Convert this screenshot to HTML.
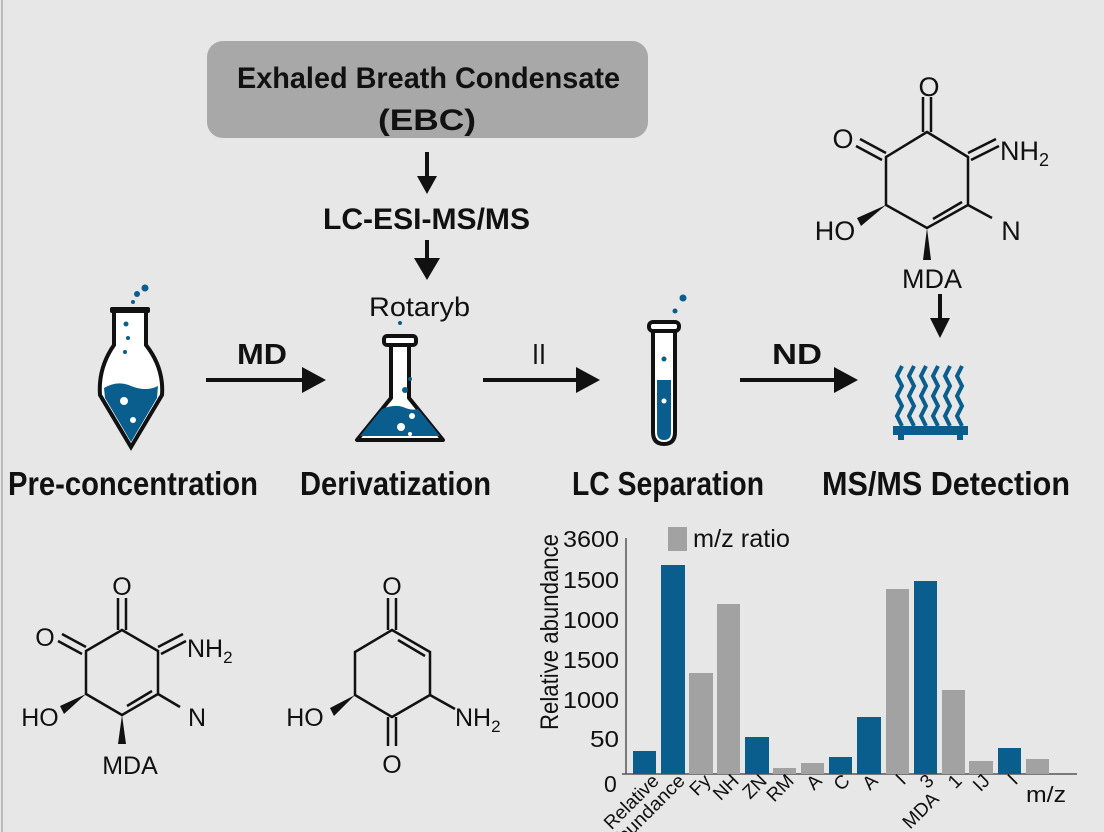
<!DOCTYPE html>
<html><head><meta charset="utf-8"><style>
html,body{margin:0;padding:0;background:#e7e7e7;}
svg{display:block}
.n{font-family:"Liberation Sans",sans-serif;font-weight:bold;fill:#111}
.r{font-family:"Liberation Sans",sans-serif;fill:#111}
.a{font-family:"Liberation Sans",sans-serif;fill:#111}
</style></head><body>
<svg width="1104" height="832" viewBox="0 0 1104 832" xmlns="http://www.w3.org/2000/svg">
<rect width="1104" height="832" fill="#e7e7e7"/>
<rect x="1" y="0" width="2" height="832" fill="#bbb"/>
<rect x="207" y="41" width="441" height="97" rx="16" fill="#a8a8a8"/>
<text class="n" x="237" y="88" font-size="30" textLength="383" lengthAdjust="spacingAndGlyphs">Exhaled Breath Condensate</text>
<text class="n" x="378" y="130" font-size="30" textLength="98" lengthAdjust="spacingAndGlyphs">(EBC)</text>
<line x1="427" y1="152" x2="427" y2="178" stroke="#111" stroke-width="4"/>
<polygon points="417,176 437,176 427,194" fill="#111"/>
<text class="n" x="323" y="229" font-size="30" textLength="207" lengthAdjust="spacingAndGlyphs">LC-ESI-MS/MS</text>
<line x1="427" y1="240" x2="427" y2="262" stroke="#111" stroke-width="4"/>
<polygon points="414,258 440,258 427,280" fill="#111"/>
<text class="r" x="369" y="316" font-size="27" textLength="101" lengthAdjust="spacingAndGlyphs">Rotaryb</text>
<path d="M116,310 L114,310 L114,345 Q98,368 100,395 L131,447 L162,395 Q164,368 146,345 L146,310 Z" stroke="#111" stroke-width="4" fill="#fff"/>
<path d="M104,388 Q118,380 131,386 Q146,392 158,386 L157,398 L131,442 L105,398 Z" fill="#0a5e8e"/>
<rect x="110" y="307" width="40" height="6" fill="#111" rx="2"/>
<circle cx="124" cy="401" r="4" fill="#fff"/><circle cx="133" cy="420" r="3" fill="#fff"/>
<circle cx="126" cy="324" r="2.5" fill="#0a5e8e"/><circle cx="128" cy="338" r="2" fill="#0a5e8e"/><circle cx="125" cy="352" r="2" fill="#0a5e8e"/>
<circle cx="137" cy="294" r="3" fill="#0a5e8e"/><circle cx="145" cy="288" r="3.5" fill="#0a5e8e"/><circle cx="133" cy="302" r="2" fill="#0a5e8e"/>
<path d="M391,345 L391,398 L357,440 L443,440 L409,398 L409,345 Z" fill="#fff" stroke="#111" stroke-width="4" stroke-linejoin="round"/>
<path d="M382,409 Q394,404 403,407 Q412,411 418,409 L440,436 L360,436 Z" fill="#0a5e8e"/>
<rect x="384" y="336" width="32" height="9" rx="3" fill="#fff" stroke="#111" stroke-width="4"/>
<circle cx="401" cy="427" r="4" fill="#fff"/><circle cx="412" cy="416" r="3" fill="#fff"/><circle cx="410" cy="434" r="2" fill="#fff"/>
<circle cx="405" cy="390" r="3" fill="#0a5e8e"/><circle cx="410" cy="379" r="2" fill="#0a5e8e"/><circle cx="400" cy="323" r="2" fill="#0a5e8e"/>
<path d="M653,330 L653,432 Q653,444 664,444 Q675,444 675,432 L675,330 Z" fill="#fff" stroke="#111" stroke-width="4"/>
<path d="M657,380 L671,380 L671,432 Q671,440 664,440 Q657,440 657,432 Z" fill="#0a5e8e"/>
<rect x="649" y="322" width="30" height="9" rx="4" fill="#fff" stroke="#111" stroke-width="4"/>
<circle cx="664" cy="359" r="2.5" fill="#0a5e8e"/><circle cx="664" cy="401" r="2.5" fill="#fff"/>
<circle cx="675" cy="311" r="2.5" fill="#0a5e8e"/><circle cx="683" cy="298" r="3.5" fill="#0a5e8e"/>
<g stroke="#0a5e8e" stroke-width="4" fill="none">
<path d="M902,366 l-5,10 l5,10 l-5,10 l5,10 l-5,10 l5,10"/>
<path d="M914,366 l-5,10 l5,10 l-5,10 l5,10 l-5,10 l5,10"/>
<path d="M926,366 l-5,10 l5,10 l-5,10 l5,10 l-5,10 l5,10"/>
<path d="M938,366 l-5,10 l5,10 l-5,10 l5,10 l-5,10 l5,10"/>
<path d="M950,366 l-5,10 l5,10 l-5,10 l5,10 l-5,10 l5,10"/>
<path d="M962,366 l-5,10 l5,10 l-5,10 l5,10 l-5,10 l5,10"/>
</g>
<rect x="893" y="426" width="75" height="9" fill="#0a5e8e"/>
<rect x="898" y="435" width="6" height="5" fill="#0a5e8e"/><rect x="957" y="435" width="6" height="5" fill="#0a5e8e"/>
<g stroke="#111" stroke-width="4"><line x1="206" y1="380" x2="306" y2="380"/><line x1="483" y1="380" x2="580" y2="380"/><line x1="740" y1="380" x2="838" y2="380"/></g>
<polygon points="302,367 326,380 302,393" fill="#111"/>
<polygon points="576,367 600,380 576,393" fill="#111"/>
<polygon points="834,367 858,380 834,393" fill="#111"/>
<text class="n" x="237" y="364" font-size="29" textLength="50" lengthAdjust="spacingAndGlyphs">MD</text>
<text class="r" x="532" y="364" font-size="29" textLength="14" lengthAdjust="spacingAndGlyphs">II</text>
<text class="n" x="772" y="364" font-size="29" textLength="50" lengthAdjust="spacingAndGlyphs">ND</text>
<text class="n" x="8" y="495" font-size="33" textLength="250" lengthAdjust="spacingAndGlyphs">Pre-concentration</text>
<text class="n" x="300" y="495" font-size="33" textLength="191" lengthAdjust="spacingAndGlyphs">Derivatization</text>
<text class="n" x="572" y="495" font-size="33" textLength="192" lengthAdjust="spacingAndGlyphs">LC Separation</text>
<text class="n" x="822" y="495" font-size="33" textLength="248" lengthAdjust="spacingAndGlyphs">MS/MS Detection</text>
<g stroke="#111" stroke-width="2.5" fill="none">
<path d="M927,132 L968,157 L968,205 L927,228 L886,205 L886,157 Z"/>
<line x1="923" y1="132" x2="923" y2="97"/><line x1="931" y1="132" x2="931" y2="97"/>
<line x1="886" y1="153" x2="860" y2="139"/><line x1="882" y1="160" x2="856" y2="146"/>
<line x1="968" y1="153" x2="996" y2="139"/><line x1="971" y1="160" x2="999" y2="146"/>
<line x1="933" y1="219" x2="962" y2="202"/>
<line x1="968" y1="205" x2="992" y2="218"/>
</g>
<polygon points="886,205 857,218 861,226" fill="#111"/>
<polygon points="927,228 923,260 931,260" fill="#111"/>
<text class="a" x="929" y="96" font-size="27" text-anchor="middle">O</text>
<text class="a" x="843" y="148" font-size="27" text-anchor="middle">O</text>
<text class="a" x="1000" y="160" font-size="27">NH<tspan font-size="18" dy="6">2</tspan></text>
<text class="a" x="1011" y="240" font-size="27" text-anchor="middle">N</text>
<text class="a" x="835" y="240" font-size="27" text-anchor="middle">HO</text>
<text class="a" x="932" y="288" font-size="27" text-anchor="middle">MDA</text>
<line x1="940" y1="294" x2="940" y2="320" stroke="#111" stroke-width="4"/>
<polygon points="930,318 950,318 940,338" fill="#111"/>
<g stroke="#111" stroke-width="2.5" fill="none">
<path d="M122,630 L158,651 L158,694 L122,715 L86,694 L86,651 Z"/>
<line x1="118" y1="630" x2="118" y2="598"/><line x1="126" y1="630" x2="126" y2="598"/>
<line x1="86" y1="647" x2="62" y2="634"/><line x1="82" y1="654" x2="58" y2="641"/>
<line x1="158" y1="647" x2="183" y2="634"/><line x1="161" y1="654" x2="186" y2="641"/>
<line x1="127" y1="706" x2="152" y2="691"/>
<line x1="158" y1="694" x2="180" y2="707"/>
</g>
<polygon points="86,694 60,706 64,714" fill="#111"/>
<polygon points="122,715 118,744 126,744" fill="#111"/>
<text class="a" x="122" y="595" font-size="25" text-anchor="middle">O</text>
<text class="a" x="45" y="646" font-size="25" text-anchor="middle">O</text>
<text class="a" x="187" y="657" font-size="25">NH<tspan font-size="17" dy="6">2</tspan></text>
<text class="a" x="197" y="726" font-size="25" text-anchor="middle">N</text>
<text class="a" x="40" y="726" font-size="25" text-anchor="middle">HO</text>
<text class="a" x="130" y="774" font-size="25" text-anchor="middle">MDA</text>
<g stroke="#111" stroke-width="2.5" fill="none">
<path d="M392,630 L430,652 L430,695 L392,717 L355,695 L355,652 Z"/>
<line x1="388" y1="630" x2="388" y2="598"/><line x1="396" y1="630" x2="396" y2="598"/>
<line x1="398" y1="640" x2="425" y2="656"/>
<line x1="388" y1="717" x2="388" y2="746"/><line x1="396" y1="717" x2="396" y2="746"/>
<line x1="430" y1="695" x2="455" y2="709"/>
</g>
<polygon points="355,695 330,708 334,716" fill="#111"/>
<text class="a" x="392" y="595" font-size="25" text-anchor="middle">O</text>
<text class="a" x="392" y="773" font-size="25" text-anchor="middle">O</text>
<text class="a" x="305" y="726" font-size="25" text-anchor="middle">HO</text>
<text class="a" x="455" y="726" font-size="25">NH<tspan font-size="17" dy="6">2</tspan></text>
<g stroke="#555" stroke-width="1.5">
<line x1="626" y1="538" x2="626" y2="774"/><line x1="622" y1="774" x2="1077" y2="774"/>
</g>
<g fill="#0a5e8e">
<rect x="633" y="751" width="23" height="23"/><rect x="661" y="565" width="24" height="209"/>
<rect x="745" y="737" width="24" height="37"/><rect x="829" y="757" width="23" height="17"/>
<rect x="857" y="717" width="24" height="57"/><rect x="914" y="581" width="23" height="193"/>
<rect x="998" y="748" width="23" height="26"/>
</g>
<g fill="#a2a2a2">
<rect x="689" y="673" width="24" height="101"/><rect x="717" y="604" width="23" height="170"/>
<rect x="773" y="768" width="23" height="6"/><rect x="801" y="763" width="23" height="11"/>
<rect x="886" y="589" width="23" height="185"/><rect x="942" y="690" width="23" height="84"/>
<rect x="969" y="761" width="24" height="13"/><rect x="1026" y="759" width="23" height="15"/>
<rect x="668" y="527" width="19" height="24"/>
</g>
<text class="r" x="693" y="547" font-size="25" textLength="97" lengthAdjust="spacingAndGlyphs">m/z ratio</text>
<g class="r" font-size="23">
<text x="563" y="547" textLength="56" lengthAdjust="spacingAndGlyphs">3600</text>
<text x="563" y="588" textLength="56" lengthAdjust="spacingAndGlyphs">1500</text>
<text x="563" y="628" textLength="56" lengthAdjust="spacingAndGlyphs">1000</text>
<text x="563" y="668" textLength="56" lengthAdjust="spacingAndGlyphs">1500</text>
<text x="563" y="708" textLength="56" lengthAdjust="spacingAndGlyphs">1000</text>
<text x="590" y="747" textLength="29" lengthAdjust="spacingAndGlyphs">50</text>
<text x="604" y="792">0</text>
</g>
<text class="r" x="0" y="0" font-size="25" text-anchor="middle" textLength="196" lengthAdjust="spacingAndGlyphs" transform="translate(558,632) rotate(-90)">Relative abundance</text>
<g class="r" font-size="19" text-anchor="end">
<text transform="translate(660,782) rotate(-45)">Relative</text>
<text transform="translate(686,782) rotate(-45)" textLength="100" lengthAdjust="spacingAndGlyphs">Abundance</text>
<text transform="translate(712,782) rotate(-45)">Fy</text>
<text transform="translate(740,782) rotate(-45)">NH</text>
<text transform="translate(768,782) rotate(-45)">ZN</text>
<text transform="translate(795,782) rotate(-45)">RM</text>
<text transform="translate(823,782) rotate(-45)">A</text>
<text transform="translate(851,782) rotate(-45)">C</text>
<text transform="translate(879,782) rotate(-45)">A</text>
<text transform="translate(907,782) rotate(-45)">I</text>
<text transform="translate(935,782) rotate(-45)">3</text>
<text transform="translate(940,800) rotate(-45)">MDA</text>
<text transform="translate(963,782) rotate(-45)">1</text>
<text transform="translate(991,782) rotate(-45)">IJ</text>
<text transform="translate(1019,782) rotate(-45)">I</text>
</g>
<text class="r" x="1026" y="802" font-size="22" textLength="40" lengthAdjust="spacingAndGlyphs">m/z</text>
</svg>
</body></html>
